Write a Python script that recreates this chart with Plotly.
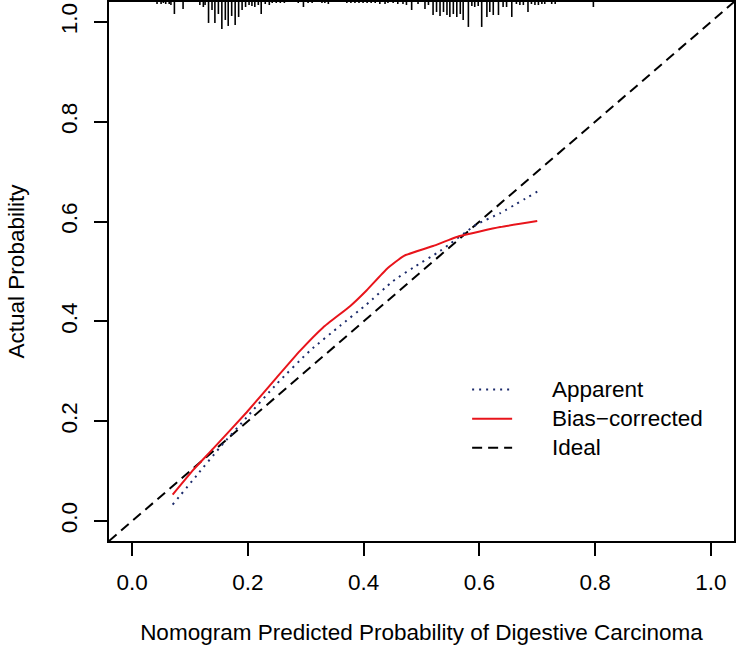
import plotly.graph_objects as go

# ---------------- data ----------------
apparent_x = [0.070, 0.112, 0.152, 0.198, 0.250, 0.307, 0.359, 0.405, 0.451, 0.486, 0.532, 0.595, 0.636, 0.700]
apparent_y = [0.033, 0.092, 0.148, 0.208, 0.275, 0.341, 0.391, 0.434, 0.481, 0.508, 0.541, 0.594, 0.617, 0.660]

bias_x = [0.070, 0.106, 0.140, 0.198, 0.250, 0.290, 0.330, 0.377, 0.405, 0.440, 0.469, 0.520, 0.566, 0.636, 0.700]
bias_y = [0.053, 0.103, 0.145, 0.218, 0.288, 0.341, 0.388, 0.431, 0.462, 0.505, 0.531, 0.551, 0.571, 0.589, 0.601]

# distribution of predicted probabilities (rug at top): position and relative frequency
rug_x = [0.043, 0.050, 0.054, 0.058, 0.064, 0.067, 0.073, 0.088, 0.117, 0.123, 0.126, 0.132,
         0.138, 0.143, 0.149, 0.155, 0.161, 0.166, 0.172, 0.178, 0.184, 0.190, 0.196, 0.202,
         0.207, 0.212, 0.218, 0.223, 0.230, 0.237, 0.242, 0.249, 0.256, 0.263, 0.287, 0.296,
         0.304, 0.311, 0.328, 0.333, 0.339, 0.371, 0.378, 0.385, 0.392, 0.399, 0.406, 0.413,
         0.420, 0.428, 0.437, 0.442, 0.451, 0.459, 0.468, 0.474, 0.483, 0.494, 0.506, 0.512,
         0.520, 0.526, 0.532, 0.538, 0.544, 0.549, 0.555, 0.561, 0.567, 0.572, 0.581, 0.587,
         0.592, 0.598, 0.604, 0.613, 0.618, 0.624, 0.633, 0.641, 0.647, 0.656, 0.664, 0.670,
         0.676, 0.684, 0.690, 0.696, 0.702, 0.708, 0.713, 0.725, 0.731, 0.797]
rug_freq = [2, 2, 1, 2, 2, 3, 12, 7, 3, 5, 3, 21,
            8, 21, 12, 27, 18, 24, 14, 23, 15, 8, 5, 3,
            4, 5, 3, 12, 2, 3, 1, 1, 1, 1, 1, 5,
            1, 1, 1, 1, 2, 1, 1, 1, 1, 1, 1, 1,
            1, 2, 2, 1, 1, 2, 2, 3, 8, 2, 7, 3,
            13, 10, 14, 10, 13, 15, 12, 15, 12, 18, 25, 4,
            5, 4, 25, 15, 10, 13, 13, 5, 5, 15, 2, 3,
            3, 10, 2, 3, 3, 2, 2, 2, 2, 5]

x_ticks = [0.0, 0.2, 0.4, 0.6, 0.8, 1.0]
y_ticks = [0.0, 0.2, 0.4, 0.6, 0.8, 1.0]
legend_labels = ["Apparent", "Bias\u2212corrected", "Ideal"]

AX_RANGE = [-0.04, 1.04]
RUG_UNIT = 0.002  # axis units per frequency unit

FONT = "Liberation Sans, Arial, Helvetica, sans-serif"
FS = 22.5
NAVY = "#1c2b6b"
RED = "#e8141b"

fig = go.Figure()

# ideal line y = x across the whole plotting region
fig.add_trace(go.Scatter(x=AX_RANGE, y=AX_RANGE, mode="lines",
                         line=dict(color="black", width=2, dash="10px,6px"),
                         showlegend=False, hoverinfo="skip"))

fig.add_trace(go.Scatter(x=apparent_x, y=apparent_y, mode="lines",
                         line=dict(color=NAVY, width=2, dash="2px,5px", shape="spline", smoothing=0.5),
                         showlegend=False))

fig.add_trace(go.Scatter(x=bias_x, y=bias_y, mode="lines",
                         line=dict(color=RED, width=2, shape="spline", smoothing=0.4),
                         showlegend=False))

# rug hanging from the top of the frame
rx, ry = [], []
top = AX_RANGE[1]
for xv, fv in zip(rug_x, rug_freq):
    rx += [xv, xv, None]
    ry += [top, top - fv * RUG_UNIT, None]
fig.add_trace(go.Scatter(x=rx, y=ry, mode="lines", line=dict(color="black", width=1.6),
                         showlegend=False, hoverinfo="skip"))

# manual legend (R style)
leg_styles = [dict(color=NAVY, width=2, dash="2px,5px"),
              dict(color=RED, width=2),
              dict(color="black", width=2, dash="10px,6px")]
row_y = [0.281, 0.227, 0.173]
for lab, st, yy in zip(legend_labels, leg_styles, row_y):
    fig.add_shape(type="line", xref="paper", yref="paper", x0=0.581, x1=0.645, y0=yy, y1=yy,
                  line=st)
    fig.add_annotation(xref="paper", yref="paper", x=0.705, y=yy, text=lab, showarrow=False,
                       xanchor="left", yanchor="middle", font=dict(family=FONT, size=FS, color="black"))

axis_common = dict(range=AX_RANGE, showgrid=False, zeroline=False, showline=True, mirror=True,
                   linecolor="black", linewidth=1.5, ticks="outside", ticklen=13, tickwidth=1.5,
                   tickcolor="black", tickformat=".1f",
                   tickfont=dict(family=FONT, size=FS, color="black"))

fig.update_layout(
    width=736, height=654,
    margin=dict(l=109, r=2, t=0, b=113),
    paper_bgcolor="white", plot_bgcolor="white",
    font=dict(family=FONT, size=FS, color="black"),
    xaxis=dict(**axis_common, tickvals=x_ticks, ticklabelstandoff=7,
               title=dict(text="Nomogram Predicted Probability of Digestive Carcinoma",
                          font=dict(family=FONT, size=FS), standoff=30)),
    yaxis=dict(**axis_common, tickvals=y_ticks, tickangle=-90, ticklabelstandoff=8,
               title=dict(text="Actual Probability", font=dict(family=FONT, size=FS), standoff=26)),
)

fig.write_html("out.html", config={"displayModeBar": False},
               post_script="document.body.style.margin='0px';")
